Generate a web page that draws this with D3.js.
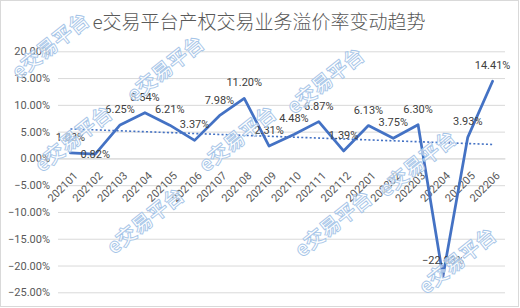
<!DOCTYPE html>
<html>
<head>
<meta charset="utf-8">
<title>e交易平台产权交易业务溢价率变动趋势</title>
<script src="https://d3js.org/d3.v7.min.js"></script>
<style>
  body { margin: 0; background: #fff; }
  text { font-family: Roboto, "Noto Sans", sans-serif; }
</style>
</head>
<body>
<svg width="520" height="308"></svg>
<script>
// data
const categories = ['202101', '202102', '202103', '202104', '202105', '202106',
  '202107', '202108', '202109', '202110', '202111', '202112',
  '202201', '202202', '202203', '202204', '202205', '202206'];
const premiumRate = [1.03, 0.82, 6.25, 8.54, 6.21, 3.37, 7.98, 11.20, 2.31,
  4.48, 6.87, 1.39, 6.13, 3.75, 6.30, -22.03, 3.93, 14.41];
const yTicks = [20, 15, 10, 5, 0, -5, -10, -15, -20, -25];
const title = 'e交易平台产权交易业务溢价率变动趋势';
const watermark = 'e交易平台';

const W = 520, H = 308;
const plot = { left: 58, right: 505, top: 51.3, bottom: 292.3 };
const blue = '#4472C4';

const svg = d3.select('svg');

// outer frame
svg.append('rect')
  .attr('x', 0.5).attr('y', 0.5)
  .attr('width', W - 2).attr('height', H - 2)
  .attr('fill', '#fff').attr('stroke', '#d9d9d9');

svg.append('text')
  .attr('x', 259).attr('y', 29)
  .attr('text-anchor', 'middle')
  .style('font-family', '"Noto Sans CJK SC", sans-serif')
  .style('font-size', '19px')
  .style('font-weight', 300)
  .attr('fill', '#595959')
  .text(title);

const x = d3.scaleBand().domain(categories).range([plot.left, plot.right]);
const y = d3.scaleLinear().domain([-25, 20]).range([plot.bottom, plot.top]);
const cx = d => x(d) + x.bandwidth() / 2;

// y axis: gridlines + labels
const yAxis = svg.append('g')
  .attr('transform', `translate(${plot.left},0)`)
  .call(d3.axisLeft(y).tickValues(yTicks)
    .tickSize(-(plot.right - plot.left))
    .tickPadding(8)
    .tickFormat(d => d3.format('.2f')(d) + '%'));
yAxis.select('.domain').remove();
yAxis.selectAll('line').attr('stroke', '#d9d9d9');
yAxis.selectAll('text')
  .attr('fill', '#595959')
  .style('font-size', '11px');

// category axis crossing at 0, rotated labels
const xAxis = svg.append('g')
  .attr('transform', `translate(0,${y(0)})`)
  .call(d3.axisBottom(x).tickSize(0).tickPadding(0));
xAxis.select('.domain').attr('stroke', '#d9d9d9');
xAxis.selectAll('text')
  .attr('fill', '#595959')
  .style('font-size', '11px')
  .attr('text-anchor', 'end')
  .attr('dy', 0)
  .attr('transform', 'translate(8,18) rotate(-45)');

// linear trendline (least squares over category index)
const n = premiumRate.length;
const mx = d3.mean(d3.range(n));
const my = d3.mean(premiumRate);
const slope = d3.sum(premiumRate, (v, i) => (i - mx) * (v - my)) /
  d3.sum(d3.range(n), i => (i - mx) * (i - mx));
const trend = [0, n - 1].map(i => ({ c: categories[i], v: my + slope * (i - mx) }));

svg.append('path')
  .datum(trend)
  .attr('fill', 'none')
  .attr('stroke', blue)
  .attr('stroke-width', 1.6)
  .attr('stroke-dasharray', '2 2.2')
  .attr('d', d3.line().x(d => cx(d.c)).y(d => y(d.v)));

// main series
const series = categories.map((c, i) => ({ c, v: premiumRate[i] }));
svg.append('path')
  .datum(series)
  .attr('fill', 'none')
  .attr('stroke', blue)
  .attr('stroke-width', 2.75)
  .attr('stroke-linejoin', 'round')
  .attr('stroke-linecap', 'round')
  .attr('d', d3.line().x(d => cx(d.c)).y(d => y(d.v)));

// data labels (second point sits centred on the marker)
svg.append('g').selectAll('text')
  .data(series)
  .join('text')
  .attr('x', d => cx(d.c))
  .attr('y', (d, i) => i === 1 ? y(d.v) + 4 : y(d.v) - 12)
  .attr('text-anchor', 'middle')
  .attr('fill', '#404040')
  .style('font-size', '11px')
  .text(d => d3.format('.2f')(d.v) + '%');

// watermark stamps
const stamps = [[19, 80], [134, 103], [294, 115], [42, 173], [206, 173],
  [386, 198], [114, 255], [302, 258], [426, 295]];
svg.append('g').selectAll('text')
  .data(stamps)
  .join('text')
  .attr('transform', d => `translate(${d[0]},${d[1]}) rotate(-38.5)`)
  .style('font-family', '"Noto Sans CJK SC", sans-serif')
  .style('font-size', '20px')
  .style('font-weight', 'bold')
  .attr('fill', '#ffffff')
  .attr('fill-opacity', 0.6)
  .attr('stroke', '#a6c5e8')
  .attr('stroke-width', 0.9)
  .text(watermark);
</script>
</body>
</html>
